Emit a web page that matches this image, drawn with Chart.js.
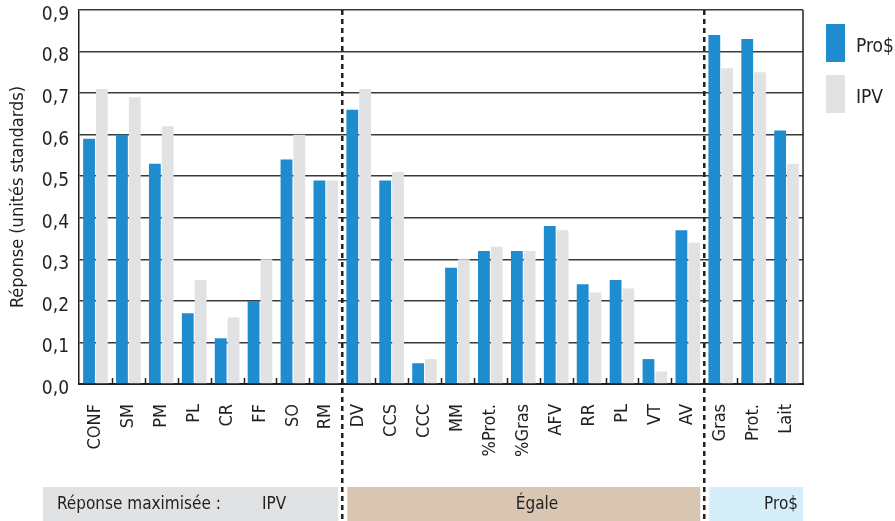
<!DOCTYPE html>
<html lang="fr">
<head>
<meta charset="utf-8">
<script src="https://cdn.jsdelivr.net/npm/chart.js@4.4.1/dist/chart.umd.min.js"></script>
<style>
  html, body { margin: 0; padding: 0; background: #fff; }
  #wrap { width: 895px; height: 521px; position: relative; }
</style>
</head>
<body>
<div id="wrap"><canvas id="chart"></canvas></div>
<script>
// données
const categories = ['CONF', 'SM', 'PM', 'PL', 'CR', 'FF', 'SO', 'RM',
  'DV', 'CCS', 'CCC', 'MM', '%Prot.', '%Gras', 'AFV', 'RR', 'PL', 'VT', 'AV',
  'Gras', 'Prot.', 'Lait']
const prosValues = [0.59, 0.60, 0.53, 0.17, 0.11, 0.20, 0.54, 0.49,
  0.66, 0.49, 0.05, 0.28, 0.32, 0.32, 0.38, 0.24, 0.25, 0.06, 0.37,
  0.84, 0.83, 0.61]
const ipvValues = [0.71, 0.69, 0.62, 0.25, 0.16, 0.30, 0.60, 0.49,
  0.71, 0.51, 0.06, 0.30, 0.33, 0.32, 0.37, 0.22, 0.23, 0.03, 0.34,
  0.76, 0.75, 0.53]
const yTicks = [0, 0.1, 0.2, 0.3, 0.4, 0.5, 0.6, 0.7, 0.8, 0.9]
const seriesNames = ['Pro$', 'IPV']
// groupes : premier et dernier index de catégorie
const groups = [
  { name: 'IPV', first: 0, last: 7, color: '#e1e2e4' },
  { name: 'Égale', first: 8, last: 18, color: '#d9c6b2' },
  { name: 'Pro$', first: 19, last: 21, color: '#d5eef9' }
]

const FONT = "'Liberation Sans Narrow', 'DejaVu Sans Condensed', 'Roboto', sans-serif"
const BLUE = '#1f8ccf'
const GREY = '#e1e2e4'
const INK = '#231f20'

// séparateurs, petits traits, bandes du bas et légende
const decorPlugin = {
  id: 'decor',
  afterDatasetsDraw(chart) {
    const { ctx, chartArea: a, scales: { x } } = chart
    const H = chart.height
    const step = x.getPixelForValue(1) - x.getPixelForValue(0)
    const edge = i => x.getPixelForValue(i) + step / 2

    ctx.save()
    // bordure droite
    ctx.strokeStyle = INK
    ctx.lineWidth = 1.5
    ctx.beginPath()
    ctx.moveTo(a.right, a.top)
    ctx.lineTo(a.right, a.bottom)
    ctx.stroke()

    // petits traits internes sur l'axe
    for (let i = 0; i < categories.length - 1; i++) {
      const px = Math.round(edge(i)) + 0.5
      ctx.beginPath()
      ctx.moveTo(px, a.bottom)
      ctx.lineTo(px, a.bottom - 6)
      ctx.stroke()
    }

    // bandes du bas
    const bandTop = 487
    groups.forEach((g, gi) => {
      const left = gi === 0 ? 43 : edge(g.first - 1) + 5
      const right = gi === groups.length - 1 ? a.right : edge(g.last) - 4
      ctx.fillStyle = g.color
      ctx.fillRect(left, bandTop, right - left, H - bandTop)
    })
    ctx.fillStyle = INK
    ctx.font = '17px ' + FONT
    ctx.textBaseline = 'middle'
    const ty = 505
    ctx.textAlign = 'left'
    ctx.fillText('Réponse maximisée :', 57, ty)
    ctx.fillText(groups[0].name, 262, ty)
    ctx.textAlign = 'center'
    ctx.fillText(groups[1].name, 537, ty)
    ctx.textAlign = 'right'
    ctx.fillText(groups[2].name, a.right - 5, ty)

    // séparateurs pointillés
    ctx.strokeStyle = INK
    ctx.lineWidth = 2.5
    ctx.setLineDash([5, 4])
    ;[groups[0].last, groups[1].last].forEach(i => {
      const px = edge(i)
      ctx.beginPath()
      ctx.moveTo(px, a.top)
      ctx.lineTo(px, H)
      ctx.stroke()
    })
    ctx.setLineDash([])

    // légende
    const colors = [BLUE, GREY]
    ctx.font = '19px ' + FONT
    seriesNames.forEach((name, i) => {
      const top = 24 + i * 51
      ctx.fillStyle = colors[i]
      ctx.fillRect(826, top, 19, 38)
      ctx.fillStyle = INK
      ctx.textAlign = 'left'
      ctx.fillText(name, 856, top + 23)
    })
    ctx.restore()
  }
}

new Chart(document.getElementById('chart'), {
  type: 'bar',
  data: {
    labels: categories,
    datasets: [
      { label: seriesNames[0], data: prosValues, backgroundColor: BLUE,
        categoryPercentage: 0.78, barPercentage: 0.92 },
      { label: seriesNames[1], data: ipvValues, backgroundColor: GREY,
        categoryPercentage: 0.78, barPercentage: 0.92 }
    ]
  },
  options: {
    responsive: true,
    maintainAspectRatio: false,
    animation: false,
    layout: { padding: { top: 10, right: 92, left: 0, bottom: 0 } },
    plugins: {
      legend: { display: false },
      tooltip: { enabled: false }
    },
    scales: {
      x: {
        grid: { display: false, drawTicks: false },
        border: { color: INK, width: 2 },
        afterFit(scale) {
          scale.height = 137
          scale.paddingLeft = 0
          scale.paddingRight = 0
        },
        ticks: {
          autoSkip: false,
          maxRotation: 90,
          minRotation: 90,
          padding: 20,
          color: INK,
          font: { family: FONT, size: 18 }
        }
      },
      y: {
        min: 0,
        max: 0.9,
        afterFit(scale) {
          scale.width = 79
          scale.paddingTop = 0
          scale.paddingBottom = 0
        },
        afterBuildTicks(scale) { scale.ticks = yTicks.map(v => ({ value: v })) },
        grid: { color: '#3a3a3a', lineWidth: 1.5, drawTicks: false },
        border: { color: INK, width: 1.5 },
        ticks: {
          padding: 10,
          labelOffset: 5,
          color: INK,
          font: { family: FONT, size: 19 },
          callback: v => v.toFixed(1).replace('.', ',')
        },
        title: {
          display: true,
          text: 'Réponse (unités standards)',
          color: INK,
          font: { family: FONT, size: 18 },
          padding: { top: 8, bottom: 0 }
        }
      }
    }
  },
  plugins: [decorPlugin]
})
</script>
</body>
</html>
